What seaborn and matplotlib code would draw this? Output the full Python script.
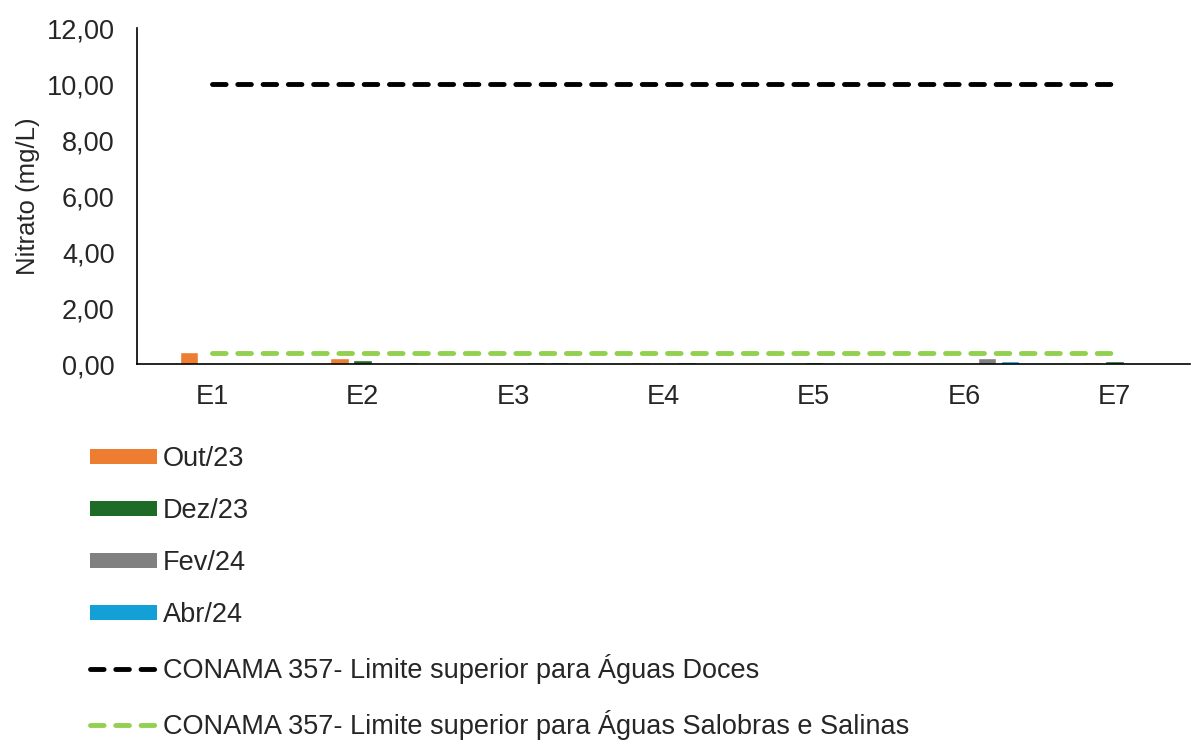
import pandas as pd
import matplotlib.pyplot as plt
import seaborn as sns
from matplotlib.patches import Patch
from matplotlib.lines import Line2D
from matplotlib.ticker import FuncFormatter, MultipleLocator

# Data
estacoes = ['E1', 'E2', 'E3', 'E4', 'E5', 'E6', 'E7']
campanhas = ['Out/23', 'Dez/23', 'Fev/24', 'Abr/24']
out_23 = [0.43, 0.21, 0.00, 0.08, 0.03, 0.03, 0.08]
dez_23 = [0.02, 0.15, 0.05, 0.03, 0.08, 0.05, 0.11]
fev_24 = [0.00, 0.00, 0.10, 0.08, 0.00, 0.22, 0.06]
abr_24 = [0.00, 0.07, 0.10, 0.00, 0.00, 0.12, 0.00]
limite_doces = 10.0
limite_salinas = 0.40

label_doces = 'CONAMA 357- Limite superior para Águas Doces'
label_salinas = 'CONAMA 357- Limite superior para Águas Salobras e Salinas'

cores = {' ': 'white', 'Out/23': '#ED7D31', 'Dez/23': '#1E6B28',
         'Fev/24': '#808080', 'Abr/24': '#12A0D7'}

rows = []
for nome, vals in zip(campanhas, [out_23, dez_23, fev_24, abr_24]):
    for e, v in zip(estacoes, vals):
        rows.append({'estacao': e, 'campanha': nome, 'nitrato': v})
df = pd.DataFrame(rows)

sns.set_style('white')
plt.rcParams['font.family'] = ['Liberation Sans', 'DejaVu Sans']

fig = plt.figure(figsize=(11.92, 7.42), dpi=100)
ax = fig.add_axes([0.115, 0.509, 0.883, 0.453])

# empty first slot keeps the Excel-style offset of the bar groups
sns.barplot(data=df, x='estacao', y='nitrato', hue='campanha',
            hue_order=[' '] + campanhas, palette=cores, order=estacoes,
            width=0.765, gap=0.2, saturation=1, legend=False, ax=ax)

xs = list(range(len(estacoes)))
dash = (0, (2.8, 2.4))
sns.lineplot(x=xs, y=[limite_doces] * len(xs), color='black', linewidth=3.5,
             linestyle=dash, dash_capstyle='round', ax=ax)
sns.lineplot(x=xs, y=[limite_salinas] * len(xs), color='#92D050', linewidth=3.5,
             linestyle=dash, dash_capstyle='round', ax=ax)

ax.set_xlim(-0.5, 6.5)
ax.set_ylim(0, 12)
ax.yaxis.set_major_locator(MultipleLocator(2))
ax.yaxis.set_major_formatter(FuncFormatter(lambda v, p: f'{v:.2f}'.replace('.', ',')))
ax.set_xlabel('')
ax.set_ylabel('Nitrato (mg/L)', fontsize=18.5, labelpad=5)
ax.tick_params(axis='y', labelsize=19.5, length=0, pad=16)
ax.tick_params(axis='x', labelsize=19.5, length=0, pad=14)
for s in ['top', 'right']:
    ax.spines[s].set_visible(False)
for s in ['left', 'bottom']:
    ax.spines[s].set_color('black')
    ax.spines[s].set_linewidth(1.2)

handles = [Patch(facecolor=cores[c], edgecolor='none', label=c) for c in campanhas]
handles.append(Line2D([0], [0], color='black', linewidth=3.5,
                      linestyle=dash, dash_capstyle='round', label=label_doces))
handles.append(Line2D([0], [0], color='#92D050', linewidth=3.5,
                      linestyle=dash, dash_capstyle='round', label=label_salinas))
fig.legend(handles=handles, loc='upper left', bbox_to_anchor=(0.0755, 0.399),
           frameon=False, fontsize=19.5, handlelength=2.48, handleheight=0.5,
           handletextpad=0.22, labelspacing=0.96, borderpad=0, borderaxespad=0)

fig.savefig('out.png', dpi=100)
plt.close(fig)
